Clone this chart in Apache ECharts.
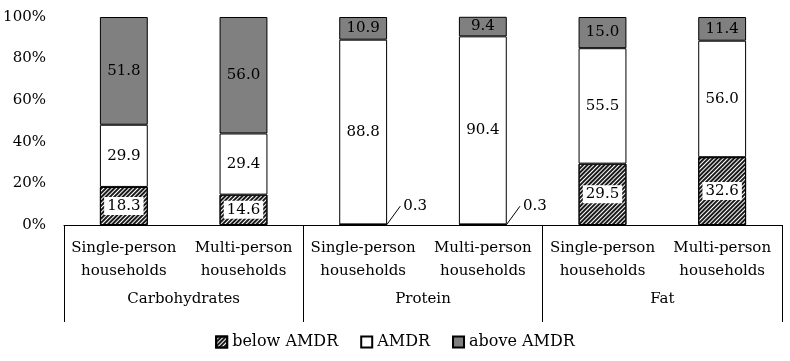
<!DOCTYPE html>
<html>
<head>
<meta charset="utf-8">
<script src="https://cdn.jsdelivr.net/npm/echarts@6/dist/echarts.min.js"></script>
<style>
  html, body { margin: 0; padding: 0; background: #fff; }
  #chart { width: 790px; height: 361px; }
</style>
</head>
<body>
<div id="chart"></div>
<script>
// data (percent of people)
const groups = ['Single-person\nhouseholds', 'Multi-person\nhouseholds',
                'Single-person\nhouseholds', 'Multi-person\nhouseholds',
                'Single-person\nhouseholds', 'Multi-person\nhouseholds'];
const nutrients = ['Carbohydrates', 'Protein', 'Fat'];
const belowAMDR = [18.3, 14.6, 0.3, 0.3, 29.5, 32.6];
const inAMDR    = [29.9, 29.4, 88.8, 90.4, 55.5, 56.0];
const aboveAMDR = [51.8, 56.0, 10.9, 9.4, 15.0, 11.4];
const yTicks = [0, 20, 40, 60, 80, 100];

const FONT = 'DejaVu Serif';
const txt = { fontFamily: FONT, fontSize: 15, color: '#000' };

const hatch = {
    symbol: 'rect',
    symbolSize: 1,
    dashArrayX: [1, 0],
    dashArrayY: [2, 1],
    rotation: -Math.PI / 4,
    color: '#1a1a1a'
};

const chart = echarts.init(document.getElementById('chart'));

// tiny segments get their label pulled out to the right with a leader line
const belowData = belowAMDR.map(function (v) {
    if (v < 2) {
        return { value: v, label: { backgroundColor: 'transparent' }, labelLine: { show: true } };
    }
    return v;
});

const valueLabel = function (p) { return p.value.toFixed(1); };

chart.setOption({
    animation: false,
    textStyle: txt,
    grid: { left: 64, right: 8, top: 17, bottom: 136 },
    legend: {
        bottom: 6,
        left: 'center',
        itemWidth: 11,
        itemHeight: 11,
        itemGap: 22,
        icon: 'rect',
        textStyle: Object.assign({}, txt, { fontSize: 16 }),
        data: ['below AMDR', 'AMDR', 'above AMDR']
    },
    xAxis: [{
        type: 'category',
        data: groups,
        axisLine: { lineStyle: { color: '#000', width: 1 } },
        axisTick: { show: false },
        axisLabel: Object.assign({ margin: 12, lineHeight: 23, interval: 0 }, txt)
    }, {
        type: 'category',
        data: nutrients,
        position: 'bottom',
        axisLine: { show: false },
        axisTick: { show: true, length: 97, lineStyle: { color: '#000' } },
        axisLabel: Object.assign({ margin: 67 }, txt)
    }],
    yAxis: {
        type: 'value',
        min: 0,
        max: 100,
        interval: 20,
        axisLine: { show: false },
        axisTick: { show: false },
        splitLine: { show: false },
        axisLabel: Object.assign({
            margin: 18,
            formatter: function (v) { return yTicks.indexOf(v) >= 0 ? v + '%' : ''; }
        }, txt)
    },
    series: [{
        name: 'below AMDR',
        type: 'bar',
        stack: 'all',
        barWidth: '40%',
        data: belowData,
        itemStyle: { color: '#fff', borderColor: '#000', borderWidth: 1, decal: hatch },
        label: Object.assign({
            show: true,
            formatter: valueLabel,
            backgroundColor: '#fff',
            padding: [2, 3, 1, 3]
        }, txt),
        labelLine: { show: false, lineStyle: { color: '#000', width: 1 } },
        labelLayout: function (p) {
            if (belowAMDR[p.dataIndex] < 2) {
                return {
                    x: p.rect.x + p.rect.width + 13,
                    y: p.rect.y - 18,
                    align: 'left',
                    verticalAlign: 'middle'
                };
            }
        }
    }, {
        name: 'AMDR',
        type: 'bar',
        stack: 'all',
        data: inAMDR,
        itemStyle: { color: '#fff', borderColor: '#000', borderWidth: 1 },
        label: Object.assign({ show: true, formatter: valueLabel }, txt)
    }, {
        name: 'above AMDR',
        type: 'bar',
        stack: 'all',
        data: aboveAMDR,
        itemStyle: { color: '#808080', borderColor: '#000', borderWidth: 1 },
        label: Object.assign({ show: true, formatter: valueLabel }, txt)
    }]
});
</script>
</body>
</html>
